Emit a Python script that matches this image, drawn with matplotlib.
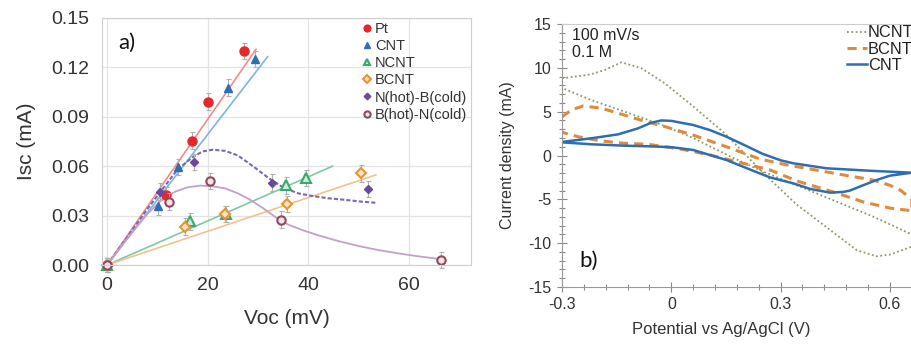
import numpy as np
import matplotlib
matplotlib.use('Agg')
import matplotlib.pyplot as plt
from matplotlib.ticker import MultipleLocator, FixedLocator

plt.rcParams['font.family'] = ['Liberation Sans', 'DejaVu Sans']
plt.rcParams['axes.unicode_minus'] = False

# ---- panel a) : Isc vs Voc ----
voc_pt = [0, 11.8, 16.8, 20.1, 27.3]
isc_pt = [0, 0.0425, 0.0755, 0.0992, 0.130]
voc_cnt = [0, 10.1, 14.1, 24.0, 29.4]
isc_cnt = [0, 0.0356, 0.0595, 0.1077, 0.125]
voc_ncnt = [0, 16.4, 23.7, 35.6, 39.5]
isc_ncnt = [0, 0.0265, 0.0310, 0.0483, 0.0528]
voc_bcnt = [0, 15.4, 23.5, 35.7, 50.5]
isc_bcnt = [0, 0.0233, 0.0310, 0.0370, 0.0557]
voc_nb = [0, 10.5, 17.3, 32.8, 51.8]
isc_nb = [0, 0.0445, 0.0627, 0.0500, 0.0461]
voc_bn = [0, 12.3, 20.5, 34.6, 66.4]
isc_bn = [0, 0.0385, 0.0511, 0.0275, 0.0031]
err = [0.004, 0.005, 0.005, 0.005, 0.005]

# fitted trend lines
fit_pt_x, fit_pt_y = [0, 29.6], [0, 0.131]
fit_cnt_x, fit_cnt_y = [0, 31.9], [0, 0.1265]
fit_ncnt_x, fit_ncnt_y = [0, 44.8], [0, 0.0600]
fit_bcnt_x, fit_bcnt_y = [0, 53.4], [0, 0.0547]
curve_nb_x = [0, 4, 8, 11, 14, 17, 19, 21, 23.5, 26, 29, 32, 35, 38, 41, 44, 47.5, 50.5, 53.4]
curve_nb_y = [0, 0.017, 0.034, 0.046, 0.058, 0.0655, 0.069, 0.0700, 0.0693, 0.0665,
              0.060, 0.053, 0.047, 0.0435, 0.0418, 0.0405, 0.0395, 0.0385, 0.0378]
curve_bn_x = [0, 4, 8, 11, 13.5, 16, 18.5, 21, 23.5, 26, 28.5, 31, 33.5, 36, 39, 42,
              46, 50, 54, 58, 62, 66.5]
curve_bn_y = [0, 0.016, 0.031, 0.040, 0.0445, 0.0472, 0.0482, 0.0478, 0.0465, 0.0435,
              0.0395, 0.0345, 0.029, 0.0245, 0.0210, 0.0180, 0.0145, 0.0115, 0.0090,
              0.0070, 0.0052, 0.0035]

# ---- panel b) : cyclic voltammograms ----
ncnt_fwd_x = [-0.3, -0.22, -0.18, -0.137, -0.082, -0.018, 0.06, 0.15, 0.25, 0.344,
              0.436, 0.509, 0.563, 0.6, 0.66]
ncnt_fwd_y = [8.8, 9.26, 9.8, 10.63, 9.95, 8.24, 5.6, 2.4, -1.9, -5.6, -8.5, -10.8,
              -11.5, -11.3, -10.4]
ncnt_rev_x = [0.66, 0.55, 0.45, 0.344, 0.25, 0.161, 0.06, -0.037, -0.128, -0.22, -0.3]
ncnt_rev_y = [-9.0, -6.9, -5.2, -3.4, -1.8, -0.1, 2.0, 3.67, 5.0, 6.33, 7.7]

bcnt_fwd_x = [-0.3, -0.274, -0.242, -0.192, -0.128, -0.073, -0.018, 0.06, 0.151, 0.243,
              0.32, 0.389, 0.47, 0.554, 0.6, 0.63, 0.66]
bcnt_fwd_y = [4.4, 5.2, 5.65, 5.4, 4.6, 3.9, 3.3, 2.33, 1.0, -0.4, -1.1, -1.6, -2.2,
              -2.8, -3.4, -4.0, -5.0]
bcnt_rev_x = [0.66, 0.6, 0.527, 0.44, 0.344, 0.271, 0.197, 0.106, 0.03, -0.018, -0.064,
              -0.128, -0.192, -0.256, -0.3]
bcnt_rev_y = [-6.3, -6.0, -5.3, -4.1, -2.9, -1.65, -0.89, 0.06, 0.7, 1.0, 1.28, 1.39,
              1.66, 2.15, 2.65]

cnt_fwd_x = [-0.3, -0.22, -0.146, -0.091, -0.055, -0.027, 0.0, 0.06, 0.106, 0.151, 0.2,
             0.25, 0.3, 0.335, 0.426, 0.55, 0.66]
cnt_fwd_y = [1.55, 1.96, 2.41, 3.1, 3.74, 4.0, 3.95, 3.48, 2.9, 2.15, 1.2, 0.2, -0.55,
             -0.89, -1.46, -1.75, -1.96]
cnt_rev_x = [0.66, 0.6, 0.563, 0.52, 0.49, 0.472, 0.436, 0.38, 0.335, 0.271, 0.225,
             0.151, 0.06, 0.0, -0.064, -0.128, -0.22, -0.3]
cnt_rev_y = [-1.96, -2.3, -2.8, -3.5, -4.0, -4.15, -4.24, -3.8, -3.18, -2.5, -1.75,
             -0.51, 0.63, 0.95, 1.05, 1.12, 1.28, 1.5]

W, H = 912, 345
fig = plt.figure(figsize=(W / 100, H / 100), dpi=100)

# ---------- left panel ----------
ax = fig.add_axes([102 / W, 1 - 265 / H, (471 - 102) / W, (265 - 18) / H])
ax.set_xlim(-1, 72.3)
ax.set_ylim(0, 0.15)
ax.set_xticks([0, 20, 40, 60])
ax.set_yticks(np.arange(0, 0.151, 0.03))
ax.set_yticklabels(['%.2f' % v for v in np.arange(0, 0.151, 0.03)])
ax.grid(True, color='#e3e3e3', lw=0.9)
ax.set_axisbelow(True)
for s in ax.spines.values():
    s.set_color('#cfcfcf')
ax.tick_params(length=0, labelsize=14, colors='#333333', pad=9)

ax.plot(fit_pt_x, fit_pt_y, color='#f08c8c', lw=1.2)
ax.plot(fit_cnt_x, fit_cnt_y, color='#7fb4de', lw=1.2)
ax.plot(fit_ncnt_x, fit_ncnt_y, color='#7ccaa6', lw=1.2)
ax.plot(fit_bcnt_x, fit_bcnt_y, color='#f2c28e', lw=1.2)
ax.plot(curve_nb_x, curve_nb_y, color='#7e68b0', lw=1.5, ls=(0, (2, 1)))
ax.plot(curve_bn_x, curve_bn_y, color='#c3a0c6', lw=1.3)

series = [
    (voc_pt, isc_pt, 'Pt', dict(marker='o', color='#e8262a', ms=6.5)),
    (voc_cnt, isc_cnt, 'CNT', dict(marker='^', color='#2f6db5', ms=5.5)),
    (voc_ncnt, isc_ncnt, 'NCNT', dict(marker='^', color='#3aa86b', mfc='#cdebd9', mew=1.5, ms=6.5)),
    (voc_bcnt, isc_bcnt, 'BCNT', dict(marker='D', color='#e8952f', mfc='#fbe3c4', mew=1.5, ms=5)),
    (voc_nb, isc_nb, 'N(hot)-B(cold)', dict(marker='D', color='#6a4a9c', ms=4.5)),
    (voc_bn, isc_bn, 'B(hot)-N(cold)', dict(marker='o', color='#8e4a5c', mfc='#f3e3e8', mew=1.5, ms=6)),
]
for x, y, lab, kw in series:
    ax.errorbar(x, y, yerr=err, fmt='none', ecolor='#b0b0b0', elinewidth=0.8,
                capsize=1.8, capthick=0.8, clip_on=False)
    ax.plot(x, y, ls='none', label=lab, clip_on=False, **kw)

leg = ax.legend(loc='upper left', bbox_to_anchor=(0.708, 0.985), frameon=False,
                fontsize=10.5, handlelength=0.5, handletextpad=0.3, labelspacing=0.22,
                borderpad=0, borderaxespad=0, markerscale=0.75)
for t in leg.get_texts():
    t.set_color('#333333')

ax.set_xlabel('Voc (mV)', fontsize=15, color='#333333')
ax.set_ylabel('Isc (mA)', fontsize=15, color='#333333')
ax.xaxis.set_label_coords(0.5, -0.178)
ax.yaxis.set_label_coords(-0.18, 0.5)
ax.text(0.043, 0.9, 'a)', transform=ax.transAxes, fontsize=16, family='Lato',
        va='center', ha='left', color='#111111')

# ---------- right panel ----------
bx = fig.add_axes([562 / W, 1 - 287 / H, (W - 562) / W, (287 - 24) / H])
bx.set_xlim(-0.3, 0.6605)
bx.set_ylim(-15, 15)
bx.spines['right'].set_visible(False)
for s in ['left', 'bottom']:
    bx.spines[s].set_color('#9a9a9a')
bx.spines['top'].set_color('#cccccc')
bx.xaxis.set_major_locator(FixedLocator([-0.3, 0, 0.3, 0.6]))
bx.set_xticklabels(['-0.3', '0', '0.3', '0.6'])
bx.xaxis.set_minor_locator(MultipleLocator(0.06))
bx.yaxis.set_major_locator(MultipleLocator(5))
bx.yaxis.set_minor_locator(MultipleLocator(1))
bx.tick_params(which='major', direction='inout', length=7, width=0.8, color='#8a8a8a',
               labelsize=11.5, labelcolor='#333333', pad=4)
bx.tick_params(which='minor', direction='inout', length=5, width=0.8, color='#8a8a8a')
bx.tick_params(axis='x', which='both', top=False)

bx.plot(ncnt_fwd_x + ncnt_rev_x, ncnt_fwd_y + ncnt_rev_y, color='#8c9a68', lw=1.3,
        ls=(0, (1, 1.4)), label='NCNT')
bx.plot(bcnt_fwd_x + bcnt_rev_x, bcnt_fwd_y + bcnt_rev_y, color='#e08a3a', lw=2.2,
        ls=(0, (3, 2)), label='BCNT')
bx.plot(cnt_fwd_x + cnt_rev_x, cnt_fwd_y + cnt_rev_y, color='#2e6db4', lw=1.8, label='CNT')

bleg = bx.legend(loc='upper left', bbox_to_anchor=(0.815, 0.995), frameon=False,
                 fontsize=11.8, handlelength=1.2, handletextpad=0.05, labelspacing=0.08,
                 borderpad=0, borderaxespad=0)
for t in bleg.get_texts():
    t.set_color('#222222')

bx.text(0.029, 0.958, '100 mV/s', transform=bx.transAxes, fontsize=11.5, va='center',
        color='#222222')
bx.text(0.029, 0.89, '0.1 M', transform=bx.transAxes, fontsize=11.5, va='center',
        color='#222222')
bx.text(0.05, 0.1, 'b)', transform=bx.transAxes, fontsize=16, family='Lato',
        va='center', ha='left', color='#111111')

bx.set_xlabel('Potential vs Ag/AgCl (V)', fontsize=12, color='#333333')
bx.set_ylabel('Current density (mA)', fontsize=11.5, color='#333333')
bx.xaxis.set_label_coords(0.454, -0.133)
bx.yaxis.set_label_coords(-0.134, 0.5)

fig.savefig('out.png', dpi=100)
